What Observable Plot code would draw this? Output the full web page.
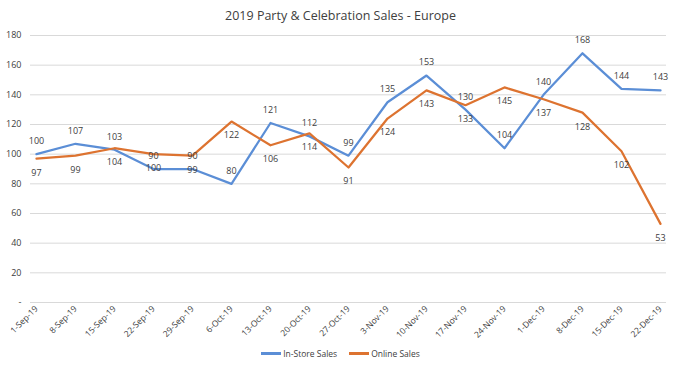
<!DOCTYPE html>
<html>
<head>
<meta charset="utf-8">
<script src="https://cdn.jsdelivr.net/npm/d3@7"></script>
<script src="https://cdn.jsdelivr.net/npm/@observablehq/plot@0.6"></script>
<style>
  html, body { margin: 0; padding: 0; background: #fff; }
  #wrap { position: relative; width: 681px; height: 366px; font-family: "Open Sans", "Liberation Sans", sans-serif; }
  #title { position: absolute; top: 7px; left: 0; width: 681px; text-align: center; font-size: 12.5px; color: #404040; }
  #chart { position: absolute; top: 0; left: 0; }
  #legend { position: absolute; top: 348px; left: 0; width: 681px; display: flex; justify-content: center; gap: 12px; font-size: 8.5px; color: #404040; }
  #legend span.item { display: flex; align-items: center; }
  #legend span.sw { display: inline-block; width: 20px; height: 2.5px; margin-right: 2px; }
</style>
</head>
<body>
<div id="wrap">
  <div id="chart"></div>
  <div id="title">2019 Party &amp; Celebration Sales - Europe</div>
  <div id="legend">
    <span class="item"><span class="sw" style="background:#5b8ed6"></span>In-Store Sales</span>
    <span class="item"><span class="sw" style="background:#dd7330"></span>Online Sales</span>
  </div>
</div>
<script>
const weeks = ["1-Sep-19","8-Sep-19","15-Sep-19","22-Sep-19","29-Sep-19","6-Oct-19","13-Oct-19","20-Oct-19","27-Oct-19","3-Nov-19","10-Nov-19","17-Nov-19","24-Nov-19","1-Dec-19","8-Dec-19","15-Dec-19","22-Dec-19"];
const inStore = [100,107,103,90,90,80,121,112,99,135,153,130,104,140,168,144,143];
const online = [97,99,104,100,99,122,106,114,91,124,143,133,145,137,128,102,53];
const yTicks = [0,20,40,60,80,100,120,140,160,180];

const inData = weeks.map((w, i) => ({week: w, value: inStore[i]}));
const onData = weeks.map((w, i) => ({week: w, value: online[i]}));

const blue = "#5b8ed6", orange = "#dd7330", textCol = "#404040";

const plot = Plot.plot({
  width: 681,
  height: 366,
  marginLeft: 30,
  marginRight: 15,
  marginTop: 35,
  marginBottom: 64,
  style: {fontFamily: "'Open Sans', 'Liberation Sans', sans-serif", fontSize: "9px", color: textCol, background: "transparent"},
  x: {type: "point", domain: weeks, padding: 0.07},
  y: {domain: [0, 180]},
  marks: [
    Plot.ruleY(yTicks, {stroke: "#d9d9d9", strokeWidth: 1}),
    Plot.axisY(yTicks, {tickSize: 0, tickPadding: 9, tickFormat: d => d === 0 ? "-" : d, label: null, fill: textCol, fontSize: 9}),
    Plot.axisX({tickSize: 0, tickPadding: 5, tickRotate: -45, label: null, fill: textCol, fontSize: 8.5}),
    Plot.line(inData, {x: "week", y: "value", stroke: blue, strokeWidth: 2.25}),
    Plot.line(onData, {x: "week", y: "value", stroke: orange, strokeWidth: 2.25}),
    Plot.text(inData, {x: "week", y: "value", text: "value", dy: -13, fill: textCol, fontSize: 9}),
    Plot.text(onData, {x: "week", y: "value", text: "value", dy: 14, fill: textCol, fontSize: 9})
  ]
});
document.getElementById("chart").appendChild(plot);
</script>
</body>
</html>
